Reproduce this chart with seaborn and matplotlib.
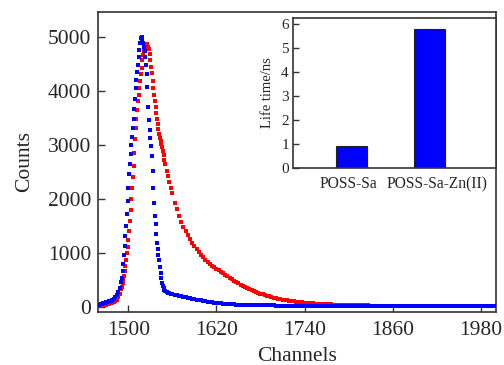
import matplotlib
matplotlib.use("Agg")
import matplotlib.pyplot as plt
import matplotlib.transforms as mtransforms
import seaborn as sns
import pandas as pd

# ---------------- data ----------------
red_channels = [*range(1458, 1491, 2), *range(1491, 1551), *range(1552, 1561, 2), *range(1563, 1888, 3)]
red_counts = [
    # 1458-1490 step 2
    12, 14, 17, 20, 24, 29, 35, 42, 50, 58, 68, 80, 100, 130, 175, 240, 320,
    # 1491-1550 step 1
    370, 430, 490, 570, 660, 760, 870, 990, 1110, 1240,
    1400, 1580, 1780, 2000, 2200, 2400, 2600, 2850, 3100, 3300,
    3480, 3650, 3800, 3920, 4050, 4180, 4300, 4420, 4560, 4660,
    4740, 4800, 4840, 4860, 4870, 4850, 4810, 4770, 4680, 4570,
    4440, 4320, 4180, 4050, 3920, 3800, 3690, 3580, 3480, 3380,
    3290, 3200, 3130, 3070, 3010, 2950, 2880, 2800, 2720, 2650,
    # 1552-1560 step 2
    2520, 2410, 2300, 2200, 2100,
    # 1563-1887 step 3
    1920, 1800, 1680, 1570, 1480, 1400, 1320, 1245, 1180, 1120,
    1065, 1010, 960, 915, 870, 830, 795, 760, 728, 697,
    668, 640, 612, 585, 558, 532, 505, 478, 452, 428,
    405, 383, 362, 342, 322, 303, 285, 268, 252, 237,
    223, 210, 198, 186, 175, 165, 155, 146, 137, 129,
    121, 114, 107, 101, 95, 90, 85, 80, 76, 72,
    68, 64, 61, 58, 55, 52, 50, 47, 45, 43,
    41, 39, 37, 35, 34, 32, 31, 30, 29, 28,
    27, 26, 25, 24, 23, 22, 21, 20, 19, 18,
    18, 17, 16, 16, 15, 15, 14, 14, 13, 13,
    12, 12, 11, 11, 10, 10, 10, 9, 9,
]

blue_channels = [*range(1458, 1491, 2), *range(1491, 1551), *range(1552, 1561, 2), *range(1563, 2000, 3)]
blue_counts = [
    # 1458-1490 step 2
    30, 35, 42, 50, 58, 66, 75, 85, 95, 108, 125, 145, 175, 215, 270, 350, 450,
    # 1491-1550 step 1
    530, 650, 790, 950, 1120, 1300, 1500, 1720, 1950, 2200,
    2450, 2650, 2830, 3000, 3150, 3300, 3480, 3660, 3850, 4050,
    4200, 4350, 4480, 4620, 4760, 4880, 4980, 5000, 4960, 4890,
    4810, 4730, 4620, 4480, 4300, 4060, 3700, 3450, 3280, 3120,
    2980, 2780, 2520, 2200, 1920, 1680, 1520, 1340, 1180, 1060,
    960, 860, 740, 620, 520, 440, 380, 335, 305, 285,
    # 1552-1560 step 2
    265, 252, 242, 234, 226,
    # 1563-1998 step 3
    215, 207, 198, 190, 182, 173, 164, 155, 146, 138,
    130, 122, 114, 107, 100, 93, 86, 80, 74, 69,
    64, 59, 55, 51, 48, 45, 42, 39, 37, 35,
    33, 31, 29, 28, 27, 26, 25, 24, 23, 22,
    21, 21, 20, 20, 19, 19, 18, 18, 18, 17,
    17, 17, 16, 16, 16, 15, 15, 15, 15, 14,
    14, 14, 14, 13, 13, 13, 13, 13, 12, 12,
    12, 12, 12, 12, 11, 11, 11, 11, 11, 11,
    10, 10, 10, 10, 10, 10, 10, 10, 10, 10, 10,
    10, 10, 10, 10, 10, 10, 10, 10, 10, 10, 10,
    9, 9, 9, 9, 9, 9, 9, 9, 9, 9, 9,
    9, 9, 9, 9, 9, 9, 9, 9, 9, 9, 9,
    8, 8, 8, 8, 8, 8, 8, 8, 8, 8, 8,
    8, 8, 8, 8, 8, 8, 8, 8, 8, 8, 8,
]

x_ticks = [1500, 1620, 1740, 1860, 1980]
y_ticks = [0, 1000, 2000, 3000, 4000, 5000]

samples = ["POSS-Sa", "POSS-Sa-Zn(II)"]
lifetimes = [0.93, 5.80]
inset_ticks = [0, 1, 2, 3, 4, 5, 6]

# ---------------- style ----------------
sns.set_theme(style="white")
plt.rcParams["font.family"] = ["Liberation Serif", "DejaVu Serif"]

RED = "#ff0000"
BLUE = "#0000ff"
SPINE = "#333333"

fig = plt.figure(figsize=(5.04, 3.65), dpi=100)
ax = fig.add_axes([98.3 / 504, 1 - 311.7 / 365, (495.7 - 98.3) / 504, (311.7 - 11.7) / 365])

red_df = pd.DataFrame({"Channels": red_channels, "Counts": red_counts})
blue_df = pd.DataFrame({"Channels": blue_channels, "Counts": blue_counts})

sns.scatterplot(data=red_df, x="Channels", y="Counts", ax=ax, color=RED,
                marker="s", s=8.5, linewidth=0, legend=False, zorder=2)
sns.scatterplot(data=blue_df, x="Channels", y="Counts", ax=ax, color=BLUE,
                marker="s", s=8.5, linewidth=0, legend=False, zorder=3)

ax.set_xlim(1459, 2000.5)
ax.set_ylim(-96, 5463)
ax.set_xticks(x_ticks)
ax.set_yticks(y_ticks)
ax.tick_params(axis="both", direction="in", length=5, width=1.0, color=SPINE,
               labelsize=15.5, bottom=True, left=True)
ax.tick_params(axis="y", pad=5)
ax.tick_params(axis="x", pad=7)
ax.set_xlabel("Channels", fontsize=15.5, labelpad=5)
ax.set_ylabel("Counts", fontsize=15.5, labelpad=10)
for sp in ax.spines.values():
    sp.set_color(SPINE)
    sp.set_linewidth(1.2)

# ---------------- inset ----------------
axin = fig.add_axes([293 / 504, 1 - 168 / 365, (496 - 293) / 504, (168 - 18) / 365])
bar_df = pd.DataFrame({"Sample": samples, "Lifetime": lifetimes})
sns.barplot(data=bar_df, x="Sample", y="Lifetime", ax=axin, color=BLUE,
            saturation=1, width=0.4, edgecolor="#222222", linewidth=0.8)
axin.set_xlim(-0.748, 1.857)
axin.set_ylim(0, 6.25)
axin.set_yticks(inset_ticks)
axin.tick_params(axis="y", direction="in", length=4, width=1.0, color=SPINE,
                 labelsize=11, pad=3, left=True)
axin.tick_params(axis="x", length=0, labelsize=11.2, pad=6)
axin.set_xlabel("")
axin.set_ylabel("Life time/ns", fontsize=10.5, labelpad=5)
# nudge the two category labels apart as in the reference
for lbl, dx in zip(axin.get_xticklabels(), [-3, 7.5]):
    lbl.set_transform(lbl.get_transform() + mtransforms.ScaledTranslation(dx / 100, 0, fig.dpi_scale_trans))
for sp in axin.spines.values():
    sp.set_color(SPINE)
    sp.set_linewidth(1.2)

fig.savefig("out.png", dpi=100)
